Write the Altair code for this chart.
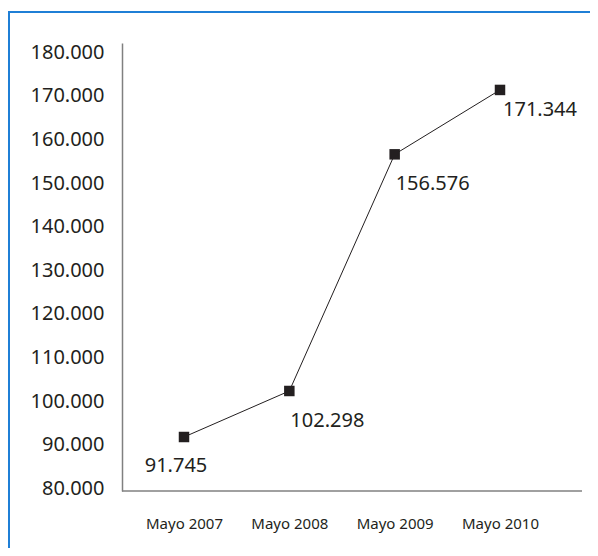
import altair as alt
import pandas as pd

periods = ["Mayo 2007", "Mayo 2008", "Mayo 2009", "Mayo 2010"]
values = [91745, 102298, 156576, 171344]
y_ticks = [80000, 90000, 100000, 110000, 120000, 130000, 140000, 150000, 160000, 170000, 180000]

df = pd.DataFrame({"periodo": periods, "valor": values, "idx": list(range(len(periods)))})

INK = "#231f20"
AXIS = "#808080"
FONT = "Noto Sans"
fmt = "replace(format({v}, ','), ',', '.')"

base = alt.Chart(df).encode(
    x=alt.X(
        "periodo:O",
        sort=periods,
        scale=alt.Scale(type="point", range=[62, 378], padding=0),
        axis=alt.Axis(
            title=None, labelAngle=0, ticks=False, grid=False, domain=False,
            labelPadding=25, labelFont=FONT, labelFontSize=15, labelColor=INK,
        ),
    ),
    y=alt.Y(
        "valor:Q",
        scale=alt.Scale(domain=[79360, 182110], nice=False, zero=False),
        axis=alt.Axis(
            title=None, values=y_ticks, ticks=False, grid=False,
            labelExpr=fmt.format(v="datum.value"), labelPadding=18,
            labelFont=FONT, labelFontSize=20, labelColor=INK,
            domainColor=AXIS, domainWidth=1.5,
        ),
    ),
)

line = base.mark_line(color=INK, strokeWidth=1)
pts = base.mark_square(size=110, color=INK, opacity=1)

lab = base.transform_calculate(txt=fmt.format(v="datum.valor"))
lab0 = lab.transform_filter("datum.idx == 0").mark_text(
    align="center", baseline="middle", dx=-8, dy=29, fontSize=20, font=FONT, color=INK
).encode(text="txt:N")
lab12 = lab.transform_filter("datum.idx == 1 || datum.idx == 2").mark_text(
    align="left", baseline="middle", dx=1, dy=30, fontSize=20, font=FONT, color=INK
).encode(text="txt:N")
lab3 = lab.transform_filter("datum.idx == 3").mark_text(
    align="left", baseline="middle", dx=3, dy=20, fontSize=20, font=FONT, color=INK
).encode(text="txt:N")

single = alt.Data(values=[{"k": 1}])
x_domain = alt.Chart(single).mark_rule(color=AXIS, strokeWidth=1.5).encode(
    x=alt.value(0), x2=alt.value(460), y=alt.value(448)
)
frame_top = alt.Chart(single).mark_rule(color="#1f7fd6", strokeWidth=2).encode(
    x=alt.value(-114), x2=alt.value(470), y=alt.value(-31)
)
frame_left = alt.Chart(single).mark_rule(color="#1f7fd6", strokeWidth=2).encode(
    x=alt.value(-113), y=alt.value(-32), y2=alt.value(510)
)

chart = alt.layer(frame_top, frame_left, x_domain, line, pts, lab0, lab12, lab3).properties(
    width=460,
    height=448,
    autosize=alt.AutoSizeParams(type="none"),
    padding={"left": 114, "top": 35, "right": 8, "bottom": 57},
    background="white",
).configure_view(stroke=None)

chart.save("out.html", embed_options={"renderer": "svg", "actions": False})
